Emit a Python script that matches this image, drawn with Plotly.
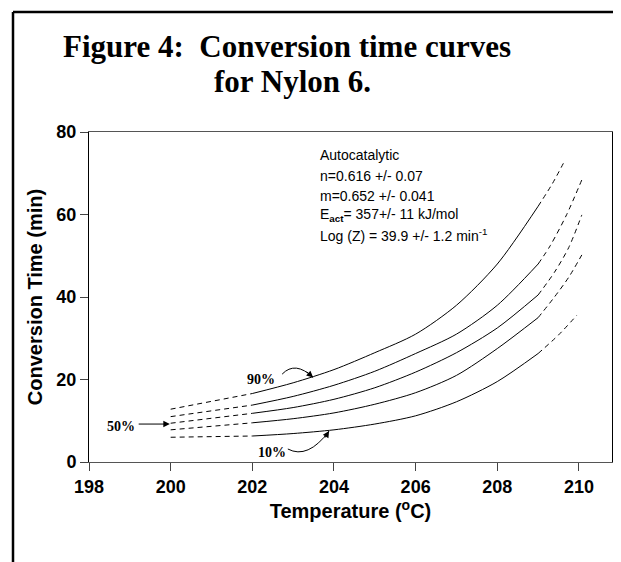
import plotly.graph_objects as go

# ---------------- data ----------------
conversions = ["10%", "30%", "50%", "70%", "90%"]

# dashed extrapolation at low temperature
t_low = [200, 202]
low_10 = [6.0, 6.3]
low_30 = [7.8, 9.5]
low_50 = [9.4, 11.8]
low_70 = [11.0, 13.8]
low_90 = [12.8, 16.6]

# solid (measured range)
t_mid = [202, 203, 204, 205, 206, 207, 208, 209]
mid_10 = [6.3, 6.9, 7.8, 9.2, 11.2, 14.6, 19.5, 26.3]
mid_30 = [9.5, 10.5, 11.9, 14.0, 16.8, 21.0, 27.5, 35.0]
mid_50 = [11.8, 13.2, 15.2, 18.0, 21.8, 26.5, 32.5, 40.5]
mid_70 = [13.8, 15.9, 18.6, 22.0, 26.3, 31.0, 38.0, 48.0]
mid_90 = [16.6, 19.2, 22.4, 26.5, 31.0, 38.0, 48.0, 62.0]

# dashed extrapolation at high temperature
t_high_10 = [209, 209.5, 209.95]
high_10 = [26.3, 30.8, 35.6]
t_high_30 = [209, 209.4, 209.75, 210.07]
high_30 = [35.0, 40.0, 44.8, 50.2]
t_high_50 = [209, 209.4, 209.75, 210.07]
high_50 = [40.5, 46.0, 52.0, 59.9]
t_high_70 = [209, 209.3, 209.7, 210.1]
high_70 = [48.0, 52.5, 60.0, 69.1]
t_high_90 = [209, 209.35, 209.66]
high_90 = [62.0, 67.5, 73.2]

x_ticks = [198, 200, 202, 204, 206, 208, 210]
y_ticks = [0, 20, 40, 60, 80]

params = [
    "Autocatalytic",
    "n=0.616 +/- 0.07",
    "m=0.652 +/- 0.041",
    "E<sub><b>act</b></sub>= 357+/- 11 kJ/mol",
    "Log (Z) = 39.9 +/- 1.2 min<sup>-1</sup>",
]

# ---------------- figure ----------------
fig = go.Figure()
dash_style = dict(color="black", width=1, dash="5px,4px", shape="spline", smoothing=0.8)
solid_style = dict(color="black", width=1, shape="spline", smoothing=0.8)

lows = [low_10, low_30, low_50, low_70, low_90]
mids = [mid_10, mid_30, mid_50, mid_70, mid_90]
highs = [(t_high_10, high_10), (t_high_30, high_30), (t_high_50, high_50),
         (t_high_70, high_70), (t_high_90, high_90)]

for name, lo, mi, (th, hi) in zip(conversions, lows, mids, highs):
    fig.add_trace(go.Scatter(x=t_low, y=lo, mode="lines", line=dash_style,
                             showlegend=False, name=name))
    fig.add_trace(go.Scatter(x=t_mid, y=mi, mode="lines", line=solid_style,
                             showlegend=False, name=name))
    fig.add_trace(go.Scatter(x=th, y=hi, mode="lines", line=dash_style,
                             showlegend=False, name=name))

# the page body adds an 8px margin; compensate so the screenshot lines up
OFF = 8
VIS_W = 613                      # visible page width
W, H = VIS_W - OFF, 562 - OFF
ml, mt = 89 - OFF, 132 - OFF
plot_right, plot_bottom = 612 - OFF, 462 - OFF
mr, mb = W - plot_right, H - plot_bottom
pw, ph = plot_right - ml, plot_bottom - mt
x_max = 198 + (612 - 89) / 40.83   # keep 198->89px, 210->579px


def px2paper(px, py):
    """screen pixel (as seen in the screenshot) -> paper coordinates"""
    return (px - OFF - ml) / pw, (plot_bottom - (py - OFF)) / ph


bold_sans = dict(family="Liberation Sans, Arial", weight="bold")
fig.update_layout(
    width=W, height=H,
    margin=dict(l=ml, r=mr, t=mt, b=mb, autoexpand=False),
    paper_bgcolor="white", plot_bgcolor="white",
    font=dict(family="Liberation Sans, Arial, sans-serif", color="black"),
    xaxis=dict(range=[198, x_max], tickvals=x_ticks, ticks="outside", ticklen=8,
               tickcolor="#444", showgrid=False, zeroline=False, showline=True,
               linecolor="#555", linewidth=1, mirror=True, automargin=False,
               tickfont=dict(size=18, **bold_sans),
               title=dict(text="Temperature (<sup>o</sup>C)", standoff=4,
                          font=dict(size=20, **bold_sans))),
    yaxis=dict(range=[0, 80], tickvals=y_ticks, ticks="outside", ticklen=8,
               tickcolor="#444", showgrid=False, zeroline=False, showline=True,
               linecolor="black", linewidth=1, mirror=True, automargin=False,
               tickfont=dict(size=18, **bold_sans),
               title=dict(text="Conversion Time (min)", standoff=8,
                          font=dict(size=20, **bold_sans))),
)

# outer figure frame (left and top edges visible)
x0, y0 = px2paper(13, 12)
fig.add_shape(type="line", xref="paper", yref="paper", x0=x0, y0=y0, x1=x0, y1=-0.6,
              line=dict(color="black", width=2.5))
fig.add_shape(type="line", xref="paper", yref="paper", x0=x0, y0=y0, x1=1.2, y1=y0,
              line=dict(color="black", width=2.5))

# title
serif_bold = dict(family="Liberation Serif, Times New Roman, serif", weight="bold")
for txt, cx, py in [("Figure 4:  Conversion time curves", 287, 46),
                    ("for Nylon 6.", 292, 81)]:
    tx, ty = px2paper(cx, py)
    fig.add_annotation(text=txt, xref="paper", yref="paper", x=tx, y=ty,
                       xanchor="center", yanchor="middle", showarrow=False,
                       font=dict(size=31, **serif_bold))

# parameter text block
for txt, py in zip(params, [155, 176, 196, 215, 235]):
    tx, ty = px2paper(318, py)
    fig.add_annotation(text=txt, xref="paper", yref="paper", x=tx, y=ty,
                       xanchor="left", yanchor="middle", showarrow=False,
                       font=dict(size=14, family="Liberation Sans, Arial"))

label_font = dict(size=14, **serif_bold)
fig.add_annotation(text="90%", x=202.21, y=19.9, showarrow=False, font=label_font)
fig.add_annotation(text="10%", x=202.48, y=2.4, showarrow=False, font=label_font)
fig.add_annotation(text="50%", x=198.78, y=8.5, showarrow=False, font=label_font)

# curved arrows
fig.add_shape(type="path", xref="x", yref="y",
              path="M 202.73 21.3 Q 203.05 24.6 203.49 20.5", line=dict(color="black", width=1))
fig.add_annotation(text="", x=203.49, y=20.5, ax=-8, ay=-7, showarrow=True,
                   arrowhead=2, arrowsize=1.3, arrowwidth=1, arrowcolor="black")
fig.add_shape(type="path", xref="x", yref="y",
              path="M 202.87 3.15 Q 203.36 0.6 203.88 7.5", line=dict(color="black", width=1))
fig.add_annotation(text="", x=203.88, y=7.5, ax=-5, ay=8, showarrow=True,
                   arrowhead=2, arrowsize=1.3, arrowwidth=1, arrowcolor="black")
# straight arrow for 50%
fig.add_annotation(text="", x=199.98, y=9.2, ax=199.18, ay=9.2, axref="x", ayref="y",
                   showarrow=True, arrowhead=2, arrowsize=1.3, arrowwidth=1,
                   arrowcolor="black")

fig.write_html("out.html")
